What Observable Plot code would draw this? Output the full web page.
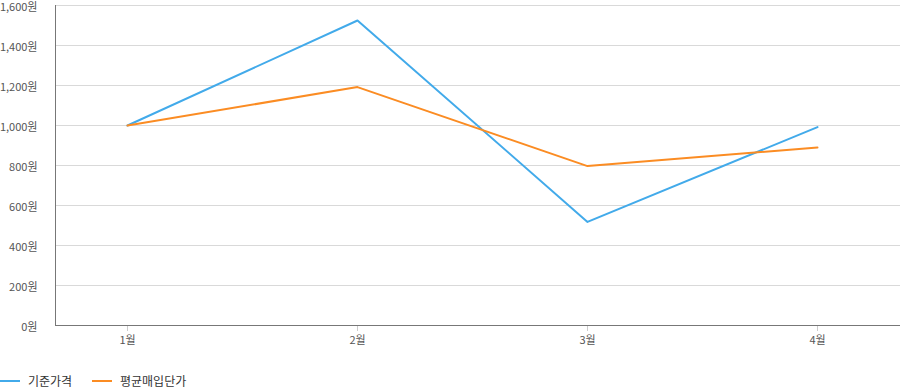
<!DOCTYPE html>
<html>
<head>
<meta charset="utf-8">
<script src="https://cdn.jsdelivr.net/npm/d3@7"></script>
<script src="https://cdn.jsdelivr.net/npm/@observablehq/plot@0.6"></script>
<style>
  html, body { margin: 0; padding: 0; background: #fff; }
  body { width: 901px; height: 388px; overflow: hidden; font-family: "Noto Sans CJK KR", "Noto Sans", sans-serif; }
  #chart svg { display: block; }
  #legend { position: relative; height: 26px; font-size: 12px; color: #333; }
  .item { position: absolute; top: 10px; display: flex; align-items: center; white-space: nowrap; }
  .sw { display: inline-block; width: 20px; height: 2px; margin-right: 8px; }
</style>
</head>
<body>
<div id="chart"></div>
<div id="legend"></div>
<script>
const months = ["1월", "2월", "3월", "4월"];
const seriesNames = ["기준가격", "평균매입단가"];
const basePrice = [1000, 1525, 518, 992];
const avgPrice = [1000, 1192, 797, 890];
const yTicks = [0, 200, 400, 600, 800, 1000, 1200, 1400, 1600];
const colors = ["#42aaea", "#fb8c23"];

const data = [];
months.forEach((m, i) => {
  data.push({month: m, series: seriesNames[0], value: basePrice[i]});
  data.push({month: m, series: seriesNames[1], value: avgPrice[i]});
});

const leftAxisLine = (index, scales, values, dimensions) => {
  const {marginLeft, marginTop, height, marginBottom} = dimensions;
  const g = d3.create("svg:g");
  g.append("line")
    .attr("x1", marginLeft + 0.5).attr("x2", marginLeft + 0.5)
    .attr("y1", marginTop).attr("y2", height - marginBottom)
    .attr("stroke", "#777").attr("stroke-width", 1);
  return g.node();
};

const chart = Plot.plot({
  width: 901,
  height: 362,
  marginLeft: 55,
  marginRight: 1,
  marginTop: 5,
  marginBottom: 37,
  style: {fontFamily: "'Noto Sans CJK KR', sans-serif", fontSize: "11px", color: "#555", background: "#fff"},
  x: {type: "point", domain: months, range: [126, 818], padding: 0, label: null},
  y: {domain: [0, 1600], label: null},
  color: {domain: seriesNames, range: colors},
  marks: [
    Plot.gridY(yTicks, {stroke: "#d9d9d9", strokeOpacity: 1}),
    Plot.axisY(yTicks, {tickSize: 0, tickPadding: 18, dy: 1.5, tickFormat: d => d3.format(",")(d) + "원", fill: "#555", label: null}),
    Plot.axisX({tickSize: 6, tickPadding: 5, stroke: "#ccc", fill: "#555", label: null}),
    Plot.ruleY([0], {stroke: "#777"}),
    leftAxisLine,
    Plot.line(data, {x: "month", y: "value", z: "series", stroke: "series", strokeWidth: 2})
  ]
});
document.getElementById("chart").append(chart);

const legend = document.getElementById("legend");
const lefts = [0, 92];
seriesNames.forEach((name, i) => {
  const it = document.createElement("div");
  it.className = "item";
  it.style.left = lefts[i] + "px";
  const sw = document.createElement("span");
  sw.className = "sw";
  sw.style.background = colors[i];
  const tx = document.createElement("span");
  tx.textContent = name;
  it.append(sw, tx);
  legend.append(it);
});
</script>
</body>
</html>
